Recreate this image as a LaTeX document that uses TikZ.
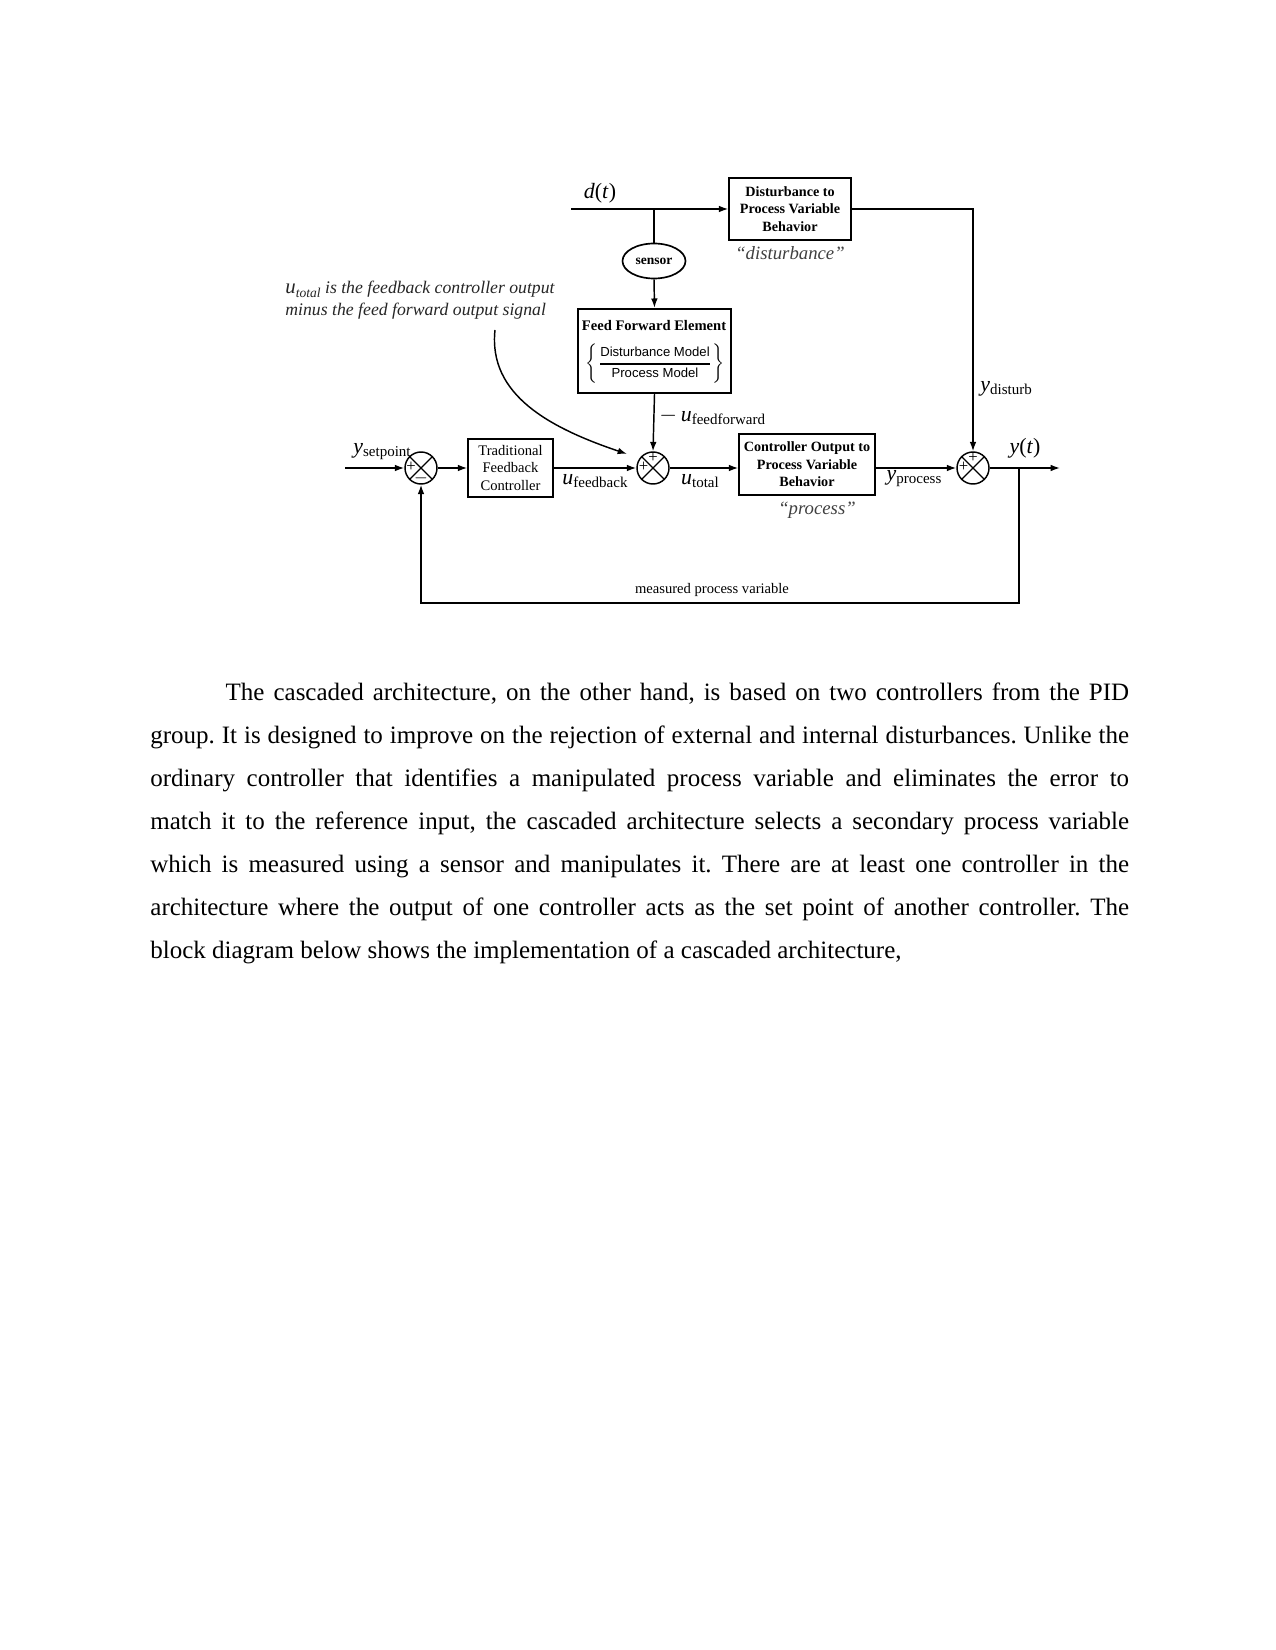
\documentclass[tikz,border=0pt]{standalone}
\usepackage{amsmath}
\usepackage{fontspec}
\setmainfont{Liberation Serif}
\newfontfamily\arialfont{Liberation Sans}
\usetikzlibrary{arrows.meta,shapes.geometric}
\newcommand{\varlab}[2]{{\fontsize{10.5}{12}\selectfont\textit{#1}}{\fontsize{7.2}{8}\selectfont\raisebox{-0.45ex}{#2}}}
\begin{document}
\begin{tikzpicture}[x=0.48pt,y=-0.48pt,
  blk/.style={draw, line width=0.7pt, align=center, inner sep=0pt, font=\fontsize{7}{8.4}\selectfont},
  bblk/.style={blk, font=\bfseries\fontsize{6.8}{8.4}\selectfont},
  sumj/.style={draw, circle, line width=0.7pt, minimum size=32*0.48pt, inner sep=0pt,
    path picture={\draw[line width=0.6pt] (path picture bounding box.north west)--(path picture bounding box.south east)
      (path picture bounding box.north east)--(path picture bounding box.south west);}},
  sig/.style={inner sep=0pt, font=\fontsize{8}{8}\selectfont},
  lab/.style={inner sep=0pt, font=\fontsize{10.5}{12}\selectfont},
  qlab/.style={inner sep=0pt, text=black!75, font=\itshape\fontsize{9}{10}\selectfont},
  conn/.style={line width=0.7pt},
  arr/.style={conn, -{Latex[length=4.5pt,width=3.2pt]}},
]
\fill[white] (0,0) rectangle (1275,1650);
\useasboundingbox (0,0) rectangle (1275,1650);

% blocks
\node[bblk, minimum width=122*0.48pt, minimum height=62*0.48pt] (dist) at (790,209) {Disturbance to\\Process Variable\\Behavior};
\node[qlab] (qdist) at (790,253) {``disturbance''};
\node[draw, ellipse, line width=0.8pt, minimum width=63*0.48pt, minimum height=35*0.48pt, inner sep=0pt,
  font=\bfseries\fontsize{6.5}{7}\selectfont] (sensor) at (654,261) {sensor};
\node[draw, line width=1.1pt, minimum width=153*0.48pt, minimum height=84*0.48pt, inner sep=0pt] (ff) at (654.5,351) {};
\node[inner sep=0pt, font=\bfseries\fontsize{7}{8}\selectfont] (fftitle) at (654,326) {Feed Forward Element};
\node[inner sep=0pt] (fffrac) at (655,364) {\fontsize{6.3}{7}\selectfont$\Biggl\{\genfrac{}{}{0.6pt}{0}{\text{\arialfont Disturbance Model}}{\text{\arialfont Process Model}}\Biggr\}$};
\node[blk, minimum width=85*0.48pt, minimum height=58*0.48pt] (tfc) at (510.5,468) {Traditional\\Feedback\\Controller};
\node[bblk, minimum width=136*0.48pt, minimum height=61*0.48pt] (cop) at (807,464.5) {Controller Output to\\Process Variable\\Behavior};
\node[qlab] (qproc) at (817,510) {``process''};

% summing junctions
\node[sumj] (j1) at (421,468) {};
\node[sumj] (j2) at (653,468) {};
\node[sumj] (j3) at (973,468) {};
\node[sig] (s1a) at (411,467) {+};
\node[sig] (s1b) at (421,478) {$-$};
\node[sig] (s2a) at (643.5,467) {+};
\node[sig] (s2b) at (653,457.5) {+};
\node[sig] (s3a) at (963.5,467) {+};
\node[sig] (s3b) at (973,457.5) {+};

% coordinates
\coordinate (din) at (571,209);
\coordinate (dbr) at (654,209);
\coordinate (sp) at (345,468);
\coordinate (yout) at (1060,468);
\coordinate (fb) at (1019,468);
\coordinate (fbb) at (1019,603);
\coordinate (annstart) at (495,330);
\coordinate (anntip) at (627,454);

% connectors
\draw[arr] (din) -- (dist.west);
\draw[conn] (dbr) -- (sensor.north);
\draw[arr] (sensor.south) -- (ff.north);
\draw[arr] (ff.south) -- (j2.north);
\draw[arr] (dist.east) -| (j3.north);
\draw[arr] (sp) -- (j1.west);
\draw[arr] (j1.east) -- (tfc.west);
\draw[arr] (tfc.east) -- (j2.west);
\draw[arr] (j2.east) -- (j2.east -| cop.west);
\draw[arr] (cop.east |- j3) -- (j3.west);
\draw[arr] (j3.east) -- (yout);
\draw[arr] (fb) -- (fbb) -| (j1.south);
\draw[arr] (annstart) .. controls (488,395) and (550,428) .. (anntip);

% labels
\node[lab] (ldt) at (600,193) {\textit{d}(\textit{t})};
\node[lab, anchor=west] (lff) at (659,416) {$-$\,\varlab{u}{feedforward}};
\node[lab, anchor=west] (lyd) at (980,389) {\varlab{y}{disturb}};
\node[lab] (lsp) at (382,452) {\varlab{y}{setpoint}};
\node[lab] (lufb) at (595,481) {\varlab{u}{feedback}};
\node[lab] (lut) at (700,481) {\varlab{u}{total}};
\node[lab] (lyp) at (914,479) {\varlab{y}{process}};
\node[lab] (lyt) at (1025,448) {\textit{y}(\textit{t})};
\node[inner sep=0pt, font=\fontsize{7}{8}\selectfont] (lmpv) at (712,590) {measured process variable};
\node[inner sep=0pt, anchor=base west, text=black!85, font=\itshape\fontsize{8.5}{10}\selectfont] (ann1) at (285,294)
  {{\fontsize{10}{12}\selectfont u}\raisebox{-0.4ex}{\fontsize{6.5}{7}\selectfont total} is the feedback controller output};
\node[inner sep=0pt, anchor=base west, text=black!85, font=\itshape\fontsize{8.5}{10}\selectfont] (ann2) at (285,316) {minus the feed forward output signal};

% paragraph
\node[anchor=base west, text width=6.5in, align=justify, inner sep=0pt, font=\frenchspacing\fontsize{12}{20.7}\selectfont] (para) at (150,700)
{\hspace*{0.5in}The cascaded architecture, on the other hand, is based on two controllers from the PID\linebreak
group. It is designed to improve on the rejection of external and internal disturbances. Unlike the\linebreak
ordinary controller that identifies a manipulated process variable and eliminates the error to\linebreak
match it to the reference input, the cascaded architecture selects a secondary process variable\linebreak
which is measured using a sensor and manipulates it. There are at least one controller in the\linebreak
architecture where the output of one controller acts as the set point of another controller. The\linebreak
block diagram below shows the implementation of a cascaded architecture,};
\end{tikzpicture}
\end{document}
